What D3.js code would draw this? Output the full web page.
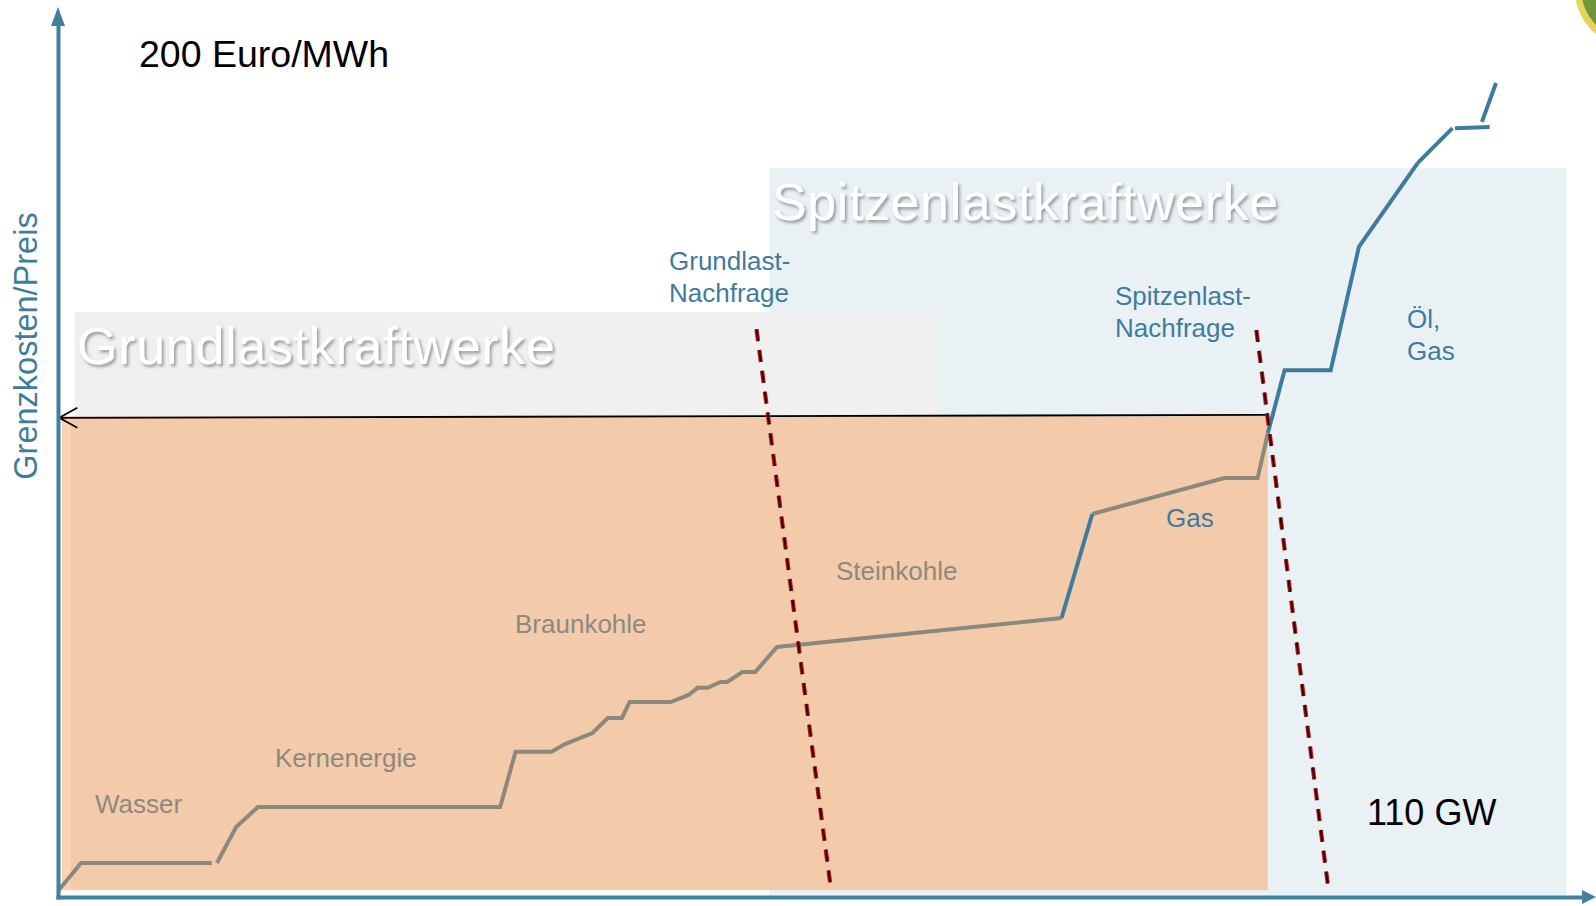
<!DOCTYPE html>
<html><head><meta charset="utf-8">
<script src="https://cdn.jsdelivr.net/npm/d3@7"></script>
<style>
html,body{margin:0;padding:0;background:#fff;overflow:hidden}
svg{display:block;font-family:"Liberation Sans",Arial,sans-serif}
</style></head>
<body>
<script>
// ---- data (GW, Euro/MWh) ----
const xDomain = [0, 120];
const yDomain = [0, 200];
const yAxisLabel = "Grenzkosten/Preis";
const topLabel = "200 Euro/MWh";
const rightLabel = "110 GW";

// merit-order supply curve pieces
const wasserPts = [[0,0],[1.8,6.7],[12.0,6.7]];
const grundPts = [[12.4,6.7],[13.9,15.3],[15.6,20.1],[34.5,20.1],[35.7,33.3],[38.5,33.3],[39.6,35.2],
  [41.7,37.8],[42.9,41.4],[44.0,41.4],[44.6,45.2],[47.8,45.2],[49.2,46.9],[49.9,48.6],[50.7,48.6],
  [51.7,50.0],[52.2,50.0],[53.4,52.4],[54.4,52.4],[56.1,58.4],[78.3,65.3]];
const gasJumpPts = [[78.3,65.3],[80.7,90.2]];
const gasPts = [[80.7,90.2],[91.0,98.8],[93.6,98.8],[94.4,109.6]];
const oelGasPts = [[94.4,109.6],[95.7,124.6],[99.3,124.6],[101.5,154.1],[106.1,174.2]];
const topPts1 = [[106.1,174.2],[108.8,182.5]];
const topPts2 = [[109.0,182.5],[111.7,182.8]];
const topPts3 = [[111.1,184.0],[112.2,193.3]];
const grayPieces = [wasserPts, grundPts, gasPts];
const bluePieces = [gasJumpPts, oelGasPts, topPts1, topPts2, topPts3];

// demand lines and clearing price
const grundDemand = [[54.5,134.4],[60.3,0.7]];
const spitzeDemand = [[93.5,134.2],[99.1,1.0]];
const clearingLine = [[94.4,113.9],[0.1,113.2]];

// shaded regions [gw0, gw1, price0, price1]
const spitzeRegion = [55.5, 117.7, -1, 173];
const grundRegion = [1.3, 68.6, 113.4, 138.5];
const costRegion = [0.3, 94.4, 0.2, 113.6];

const fuelLabels = ["Wasser","Kernenergie","Braunkohle","Steinkohle"];

// ---- drawing ----
const W = 1596, H = 906;
const svg = d3.select("body").append("svg").attr("width", W).attr("height", H);
const x = d3.scaleLinear().domain(xDomain).range([58, 1596]);
const y = d3.scaleLinear().domain(yDomain).range([891, 55]);

const defs = svg.append("defs");
const f = defs.append("filter").attr("id","shadow").attr("x","-5%").attr("y","-20%").attr("width","115%").attr("height","150%");
f.append("feDropShadow").attr("dx",2).attr("dy",2.5).attr("stdDeviation",1.6).attr("flood-color","#555").attr("flood-opacity",0.55);

function rect(r, fill){
  svg.append("rect").attr("x", x(r[0])).attr("y", y(r[3]))
    .attr("width", x(r[1]) - x(r[0])).attr("height", y(r[2]) - y(r[3])).attr("fill", fill);
}
rect(spitzeRegion, "#e9f1f4");
rect(grundRegion, "#f0f0f0");
rect(costRegion, "#f3cbab");
svg.append("rect").attr("x", x(costRegion[0])).attr("y", y(costRegion[3]))
  .attr("width", 9).attr("height", y(costRegion[2]) - y(costRegion[3])).attr("fill", "#f8d3b4");

// logo fragment
svg.append("circle").attr("cx",1632).attr("cy",-10).attr("r",57).attr("fill","#e6d35a");
svg.append("circle").attr("cx",1634).attr("cy",-12).attr("r",53).attr("fill","#6f983c");

// titles
svg.append("text").attr("x",77).attr("y",364).attr("font-size",52).attr("letter-spacing",0.7).attr("fill","#fff")
  .attr("filter","url(#shadow)").text("Grundlastkraftwerke");
svg.append("text").attr("x",772).attr("y",220).attr("font-size",52).attr("letter-spacing",0.6).attr("fill","#fff")
  .attr("filter","url(#shadow)").text("Spitzenlastkraftwerke");

// curve
const line = d3.line().x(d => x(d[0])).y(d => y(d[1]));
svg.selectAll("path.gray").data(grayPieces).join("path").attr("class","gray")
  .attr("d", line).attr("fill","none").attr("stroke","#8b897d").attr("stroke-width",4);
svg.selectAll("path.blue").data(bluePieces).join("path").attr("class","blue")
  .attr("d", line).attr("fill","none").attr("stroke","#3f7c9c").attr("stroke-width",4);

// clearing price line with open arrow
svg.append("path").attr("d", line(clearingLine)).attr("stroke","#000").attr("stroke-width",1.8).attr("fill","none");
const ax = x(clearingLine[1][0]), ay = y(clearingLine[1][1]);
svg.append("path").attr("d", `M${ax+18},${ay-10}L${ax},${ay}L${ax+18},${ay+10}`)
  .attr("stroke","#000").attr("stroke-width",1.8).attr("fill","none");

// demand lines
[grundDemand, spitzeDemand].forEach(d => {
  svg.append("path").attr("d", line(d)).attr("stroke","#c4141a").attr("stroke-width",4.2)
    .attr("stroke-dasharray","12,9").attr("fill","none");
  svg.append("path").attr("d", line(d)).attr("stroke","#2a0505").attr("stroke-width",2)
    .attr("stroke-dasharray","12,9").attr("fill","none");
});

// axes
const axColor = "#41809f";
const yAx = d3.scaleLinear().domain(yDomain).range([899, 24]);
const xAx = d3.scaleLinear().domain(xDomain).range([56, 1586]);
const gy = svg.append("g").attr("transform","translate(58,0)")
  .call(d3.axisLeft(yAx).tickValues([]).tickSizeOuter(0));
gy.select(".domain").attr("stroke", axColor).attr("stroke-width",4);
const gx = svg.append("g").attr("transform","translate(0,897)")
  .call(d3.axisBottom(xAx).tickValues([]).tickSizeOuter(0));
gx.select(".domain").attr("stroke", axColor).attr("stroke-width",4);
svg.append("path").attr("d","M58,7L51,26L65,26Z").attr("fill",axColor);
svg.append("path").attr("d","M1596,897L1582,890L1582,904Z").attr("fill",axColor);

// axis label
svg.append("text").attr("transform","translate(37,346) rotate(-90)").attr("text-anchor","middle")
  .attr("font-size",32.5).attr("fill","#3f7c9c").text(yAxisLabel);
svg.append("text").attr("x",139).attr("y",67).attr("font-size",37.5).attr("fill","#000").text(topLabel);
svg.append("text").attr("x",1367).attr("y",825).attr("font-size",36).attr("fill","#000").text(rightLabel);

// fuel labels
const grayC = "#8c8a80";
const lp = [[95,813],[275,767],[515,633],[836,580]];
fuelLabels.forEach((t,i) => svg.append("text").attr("x",lp[i][0]).attr("y",lp[i][1])
  .attr("font-size",26).attr("fill",grayC).text(t));

const blueC = "#3f7c9c";
function blueText(tx, ty, lines){
  const t = svg.append("text").attr("x",tx).attr("y",ty).attr("font-size",26).attr("fill",blueC);
  lines.forEach((l,i) => t.append("tspan").attr("x",tx).attr("dy", i ? 32 : 0).text(l));
}
blueText(669, 270, ["Grundlast-","Nachfrage"]);
blueText(1115, 305, ["Spitzenlast-","Nachfrage"]);
blueText(1407, 328, ["Öl,","Gas"]);
blueText(1166, 527, ["Gas"]);
</script>
</body></html>
